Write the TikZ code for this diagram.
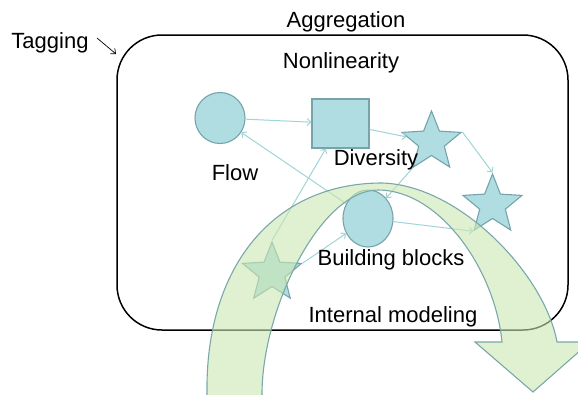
\documentclass[tikz,border=0pt]{standalone}
\usepackage{fontspec}
\setmainfont{Liberation Sans}
\usetikzlibrary{shapes.geometric,arrows.meta}
\definecolor{blobfill}{RGB}{176,221,226}
\definecolor{blobedge}{RGB}{118,164,170}
\definecolor{linkcol}{RGB}{160,212,214}
\definecolor{bandfill}{RGB}{203,231,178}
\definecolor{bandedge}{RGB}{122,168,170}

\begin{document}
\begin{tikzpicture}[x=1pt,y=-1pt,
    every node/.style={inner sep=0pt},
    blob/.style={draw=blobedge, fill=blobfill, line width=1.1pt},
    starblob/.style={blob, star, star points=5, star point ratio=2.3, minimum size=62pt},
    lbl/.style={anchor=base, font=\fontsize{22}{26}\selectfont},
    link/.style={draw=linkcol, line width=1pt, -{Straight Barb[length=3.5pt,width=7pt]}},
    band/.style={draw=bandedge, line width=1.1pt, fill=bandfill, fill opacity=0.6}]
        \useasboundingbox (0,0) rectangle (578,394);
        \node [draw=black, line width=1.5pt, rounded corners=45pt, minimum width=451pt, minimum height=295pt] (system) at (342.5,182.5) {};
        \node [lbl] (aggregation) at (346,27) {Aggregation};
        \node [lbl] (nonlinearity) at (341,68) {Nonlinearity};
        \node [lbl] (tagging) at (50,48) {Tagging};
        \node [lbl] (internal) at (393,322) {Internal modeling};
        \coordinate (tagtail) at (97,38);
        \coordinate (tagtip) at (116,54);
        \draw [black, line width=0.7pt, -{Straight Barb[length=4pt,width=7pt]}] (tagtail) -- (tagtip);
        \node [blob, ellipse, minimum width=50pt, minimum height=51pt] (flow) at (220,118) {};
        \node [blob, rectangle, minimum width=57pt, minimum height=49pt] (diversity) at (340.5,123.5) {};
        \node [starblob] (star1) at (431.5,142) {};
        \node [starblob] (star2) at (492.5,205) {};
        \node [blob, ellipse, minimum width=50pt, minimum height=57pt] (bblocks) at (368,218.5) {};
        \node [starblob] (star3) at (272,273) {};
        \draw [link] (flow) -- (diversity);
        \draw [link] (diversity) -- (star1);
        \draw [link] (star1.outer point 5) -- (star2.outer point 1);
        \draw [link] (bblocks) -- (star2.outer point 3);
        \draw [link] (bblocks) -- (flow);
        \draw [link] (star3.outer point 1) -- (diversity);
        \draw [link] (star3.outer point 5) -- (bblocks);
        \draw [link] (star1.outer point 3) -- (bblocks);
        \node [lbl] (flowlbl) at (235,180) {Flow};
        \node [lbl] (divlbl) at (376,165) {Diversity};
        \node [lbl] (bblbl) at (391,265) {Building blocks};
        \draw [band] (207,400) -- (207,394) .. controls (205,265) and (275,183) .. (382,183)
            .. controls (460,185) and (545,275) .. (557,342) -- (590,342) -- (533,392) -- (475,342) -- (502,342)
            .. controls (495,270) and (440,190) .. (378,190)
            .. controls (320,190) and (262,310) .. (262,394) -- (262,400) -- cycle;
\end{tikzpicture}
\end{document}
